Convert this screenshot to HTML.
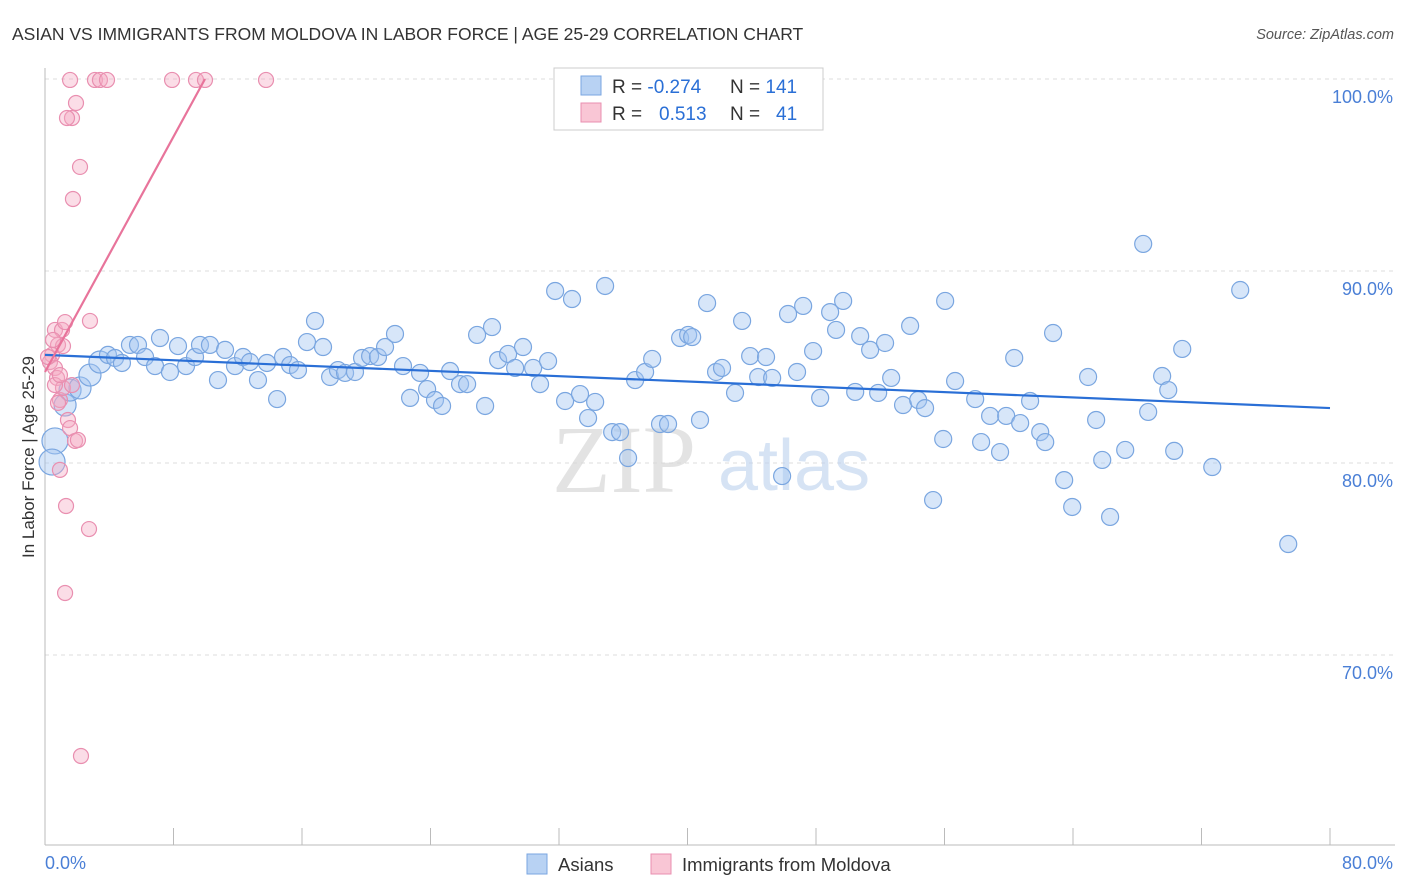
<!DOCTYPE html>
<html><head><meta charset="utf-8">
<style>
body{margin:0;background:#fff;font-family:"Liberation Sans",sans-serif;}
#wrap{position:relative;width:1406px;height:892px;overflow:hidden;}
</style></head>
<body>
<div id="wrap">
<svg id="chart" width="1406" height="892" xmlns="http://www.w3.org/2000/svg">
<text x="12" y="40" font-size="17.5" fill="#333">ASIAN VS IMMIGRANTS FROM MOLDOVA IN LABOR FORCE | AGE 25-29 CORRELATION CHART</text>
<text x="1394" y="39" font-size="14.5" fill="#555" font-style="italic" text-anchor="end">Source: ZipAtlas.com</text>
<g id="grid"></g>
<g>
<text x="552" y="492" font-size="96" font-family="Liberation Serif,serif" fill="#d8d8d8" opacity="0.7">ZIP</text>
<text x="718" y="490" font-size="72" fill="#bcd2ee" opacity="0.6">atlas</text>
</g>
<line x1="45" y1="68" x2="45" y2="845" stroke="#bbb"/>
<line x1="45" y1="845" x2="1395" y2="845" stroke="#bbb"/>
<g id="xticks"></g>
<g id="ylabels"></g>
<text x="45" y="869" font-size="18" fill="#4a7fd6">0.0%</text>
<text x="1393" y="869" font-size="18" fill="#4a7fd6" text-anchor="end">80.0%</text>
<text transform="translate(34,457) rotate(-90)" font-size="17" fill="#333" text-anchor="middle">In Labor Force | Age 25-29</text>
<g id="pts"></g>
<g id="trends"></g>
<g>
<rect x="554" y="68" width="269" height="62" fill="#fff" stroke="#ccc"/>
<rect x="581" y="76" width="20" height="19" fill="#b8d2f3" stroke="#7aa6e0"/>
<rect x="581" y="103" width="20" height="19" fill="#f9c6d5" stroke="#e98fb0"/>
<text x="612" y="93" font-size="19" fill="#333">R = <tspan fill="#2a6fd6">-0.274</tspan><tspan x="730">N = </tspan><tspan fill="#2a6fd6">141</tspan></text>
<text x="612" y="120" font-size="19" fill="#333">R = <tspan x="659" fill="#2a6fd6">0.513</tspan><tspan x="730">N = </tspan><tspan x="776" fill="#2a6fd6">41</tspan></text>
</g>
<g>
<rect x="527" y="854" width="20" height="20" fill="#b8d2f3" stroke="#7aa6e0"/>
<text x="558" y="871" font-size="18.5" fill="#333">Asians</text>
<rect x="651" y="854" width="20" height="20" fill="#f9c6d5" stroke="#e98fb0"/>
<text x="682" y="871" font-size="18.5" fill="#333">Immigrants from Moldova</text>
</g>
</svg>
</div>
<script>
const yTicks=[100,90,80,70];
const yTickLabels=["100.0%","90.0%","80.0%","70.0%"];
const xTicks=[0,8,16,24,32,40,48,56,64,72,80];
const asianX=[0.62,0.44,1.25,1.56,2.18,2.80,3.42,3.92,4.36,4.79,5.29,5.79,6.23,6.85,7.16,7.78,8.28,8.78,9.34,9.65,10.27,10.77,11.21,11.83,12.33,12.76,13.26,13.82,14.45,14.82,15.26,15.75,16.31,16.81,17.31,17.75,18.24,18.68,19.30,19.74,20.24,20.73,21.17,21.79,22.29,22.73,23.35,23.79,24.28,24.72,25.22,25.84,26.28,26.90,27.40,27.83,28.21,28.83,29.27,29.76,30.39,30.82,31.32,31.76,32.38,32.81,33.31,33.81,34.25,34.87,35.31,35.80,36.30,36.74,37.36,37.80,38.29,38.79,39.54,40.04,40.29,40.78,41.22,41.78,42.15,42.96,43.40,43.90,44.40,44.89,45.27,45.89,46.26,46.82,47.20,47.82,48.26,48.88,49.25,49.69,50.44,50.75,51.37,51.87,52.30,52.68,53.42,53.86,54.36,54.79,55.29,55.92,56.04,56.66,57.91,58.28,58.84,59.46,59.84,60.34,60.71,61.33,61.96,62.27,62.76,63.45,63.95,64.94,65.44,65.82,66.31,67.25,68.37,68.68,69.55,69.93,70.30,70.80,72.67,74.41,77.40];
const asianY=[81.15,80.05,83.02,83.80,83.91,84.58,85.26,85.63,85.47,85.21,86.15,86.15,85.52,85.05,86.51,84.74,86.09,85.05,85.52,86.15,86.15,84.32,85.89,85.05,85.52,85.26,84.32,85.21,83.33,85.52,85.10,84.84,86.30,87.40,86.04,84.48,84.84,84.69,84.74,85.47,85.57,85.52,86.04,86.72,85.05,83.39,84.69,83.85,83.28,82.97,84.79,84.11,84.11,86.67,82.97,87.08,85.36,85.68,84.95,86.04,84.95,84.11,85.31,88.96,83.23,88.54,83.59,82.34,83.18,89.22,81.61,81.61,80.26,84.32,84.74,85.42,82.03,82.03,86.51,86.67,86.56,82.24,88.33,84.74,84.95,83.65,87.40,85.57,84.48,85.52,84.43,79.32,87.76,84.74,88.18,85.83,83.39,87.86,86.93,88.44,83.70,86.61,85.89,83.65,86.25,84.43,83.02,87.14,83.28,82.86,78.07,81.25,88.44,84.27,83.33,81.09,82.45,80.57,82.45,85.47,82.08,83.23,81.61,81.09,86.77,79.11,77.71,84.48,82.24,80.16,77.19,80.68,91.41,82.66,84.53,83.80,80.63,85.94,79.79,89.01,75.78];
const asianBig=[0,1,2,3,4,5,6];
const moldX=[0.62,0.81,0.44,0.31,0.62,0.75,0.93,1.12,1.06,1.25,1.12,1.43,1.56,1.68,1.87,2.05,0.93,1.31,2.74,1.25,2.24,1.56,1.68,1.37,1.93,2.18,1.74,2.80,3.11,3.42,3.86,7.91,9.40,9.96,13.76,0.62,0.81,0.19,0.50,0.93];
const moldY=[86.93,86.15,85.63,85.26,84.95,84.43,83.28,83.91,86.93,87.34,86.09,82.24,81.82,84.06,81.15,81.20,79.64,77.76,76.56,73.23,64.74,99.95,97.97,97.97,98.75,95.42,93.75,87.40,99.95,99.95,99.95,99.95,99.95,99.95,99.95,84.06,83.13,85.52,86.41,84.58];
const asianTrend=[85.63,-0.0346]; // intercept, slope
const moldTrend=[84.74,1.532];
const NS="http://www.w3.org/2000/svg";
const X=v=>45+v*16.0625;
const Y=v=>79+(100-v)*19.2;
function mk(tag,attrs,parent){const e=document.createElementNS(NS,tag);for(const k in attrs)e.setAttribute(k,attrs[k]);parent.appendChild(e);return e;}
const grid=document.getElementById('grid'),yl=document.getElementById('ylabels'),xt=document.getElementById('xticks');
yTicks.forEach((t,i)=>{
 const l=mk('line',{x1:45,x2:1395,y1:Y(t),y2:Y(t),stroke:'#ddd','stroke-dasharray':'4,4'},grid);
 
 
 const tx=mk('text',{x:1393,y:Y(t)+24,'font-size':18,fill:'#4a7fd6','text-anchor':'end'},yl);
 tx.textContent=yTickLabels[i];
 
 
});
xTicks.forEach(t=>{
 const l=mk('line',{x1:X(t),x2:X(t),y1:828,y2:845,stroke:'#bbb'},xt);
 
 
});
const pts=document.getElementById('pts');
asianX.forEach((x,i)=>{
 const big=asianBig.indexOf(i)>=0;
 const r=i<2?13:(big?11:8.5);
 const c=mk('circle',{cx:X(x),cy:Y(asianY[i]),r:r,fill:'rgba(160,196,240,0.42)',stroke:'#7aa6e0','stroke-width':1.2},pts);
 
 
});
moldX.forEach((x,i)=>{
 const c=mk('circle',{cx:X(x),cy:Y(moldY[i]),r:7.5,fill:'rgba(245,170,195,0.4)',stroke:'#e98fb0','stroke-width':1.2},pts);
 
 
});
const tr=document.getElementById('trends');
const a=mk('line',{x1:X(0),y1:Y(asianTrend[0]),x2:X(80),y2:Y(asianTrend[0]+80*asianTrend[1]),stroke:'#2a6fd6','stroke-width':2.2},tr);


const xEnd=(100-moldTrend[0])/moldTrend[1];
const m=mk('line',{x1:X(0),y1:Y(moldTrend[0]),x2:X(xEnd),y2:Y(100),stroke:'#e8749b','stroke-width':2.2},tr);


</script>
</body></html>
